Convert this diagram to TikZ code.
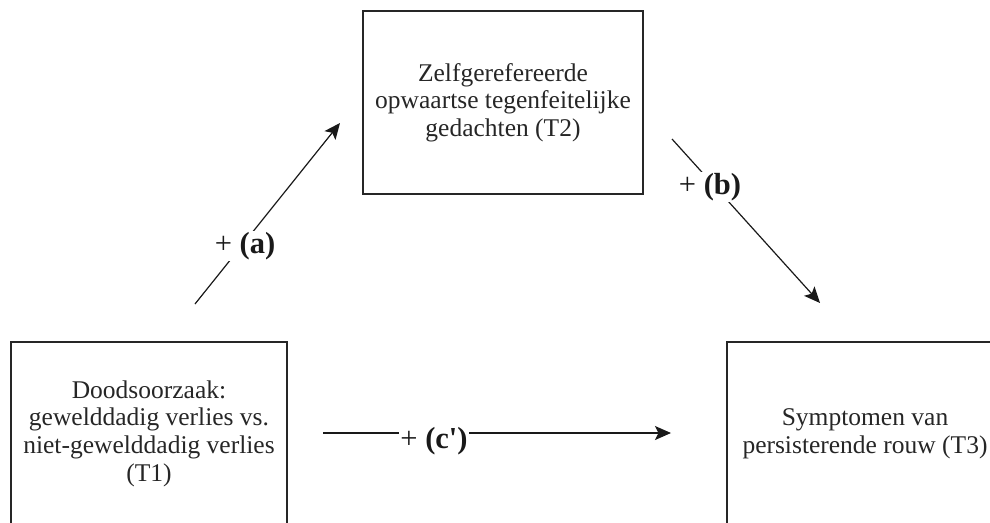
\documentclass[tikz,border=0pt]{standalone}
\usepackage{fontspec}
\setmainfont{Liberation Serif}
\usetikzlibrary{arrows.meta}
\begin{document}
\begin{tikzpicture}[x=1pt,y=-1pt,
  box/.style={draw=black!85, line width=1.3pt, minimum width=276pt, minimum height=183pt,
    align=center, font=\fontsize{25.5}{27.7}\selectfont, text=black!85, inner sep=0pt},
  conn/.style={draw=black!90, line width=1.2pt, -{Stealth[length=16pt,width=14pt,inset=3.5pt]}},
  lab/.style={fill=white, inner sep=1.5pt, text=black!90, font=\fontsize{30.5}{33}\selectfont}]
\useasboundingbox (0,0) rectangle (990,522);
\node[box, minimum width=280pt] (m) at (503,102.5)
  {Zelfgerefereerde\\opwaartse tegenfeitelijke\\gedachten (T2)};
\node[box] (x) at (149,433.5)
  {Doodsoorzaak:\\gewelddadig verlies vs.\\niet-gewelddadig verlies\\(T1)};
\node[box] (y) at (865,433.5)
  {Symptomen van\\persisterende rouw (T3)};
\coordinate (a0) at (195,304);
\coordinate (a1) at (340,123);
\coordinate (b0) at (672,139);
\coordinate (b1) at (820,303);
\coordinate (c0) at (323,433);
\coordinate (c1) at (671,433);
\draw[conn] (a0) -- (a1);
\draw[conn] (b0) -- (b1);
\draw[conn] (c0) -- (c1);
\node[lab] (la) at (245,246) {+ \textbf{(a)}};
\node[lab] (lb) at (710,187) {+ \textbf{(b)}};
\node[lab] (lc) at (434,441) {+ \textbf{(c\textquotesingle)}};
\end{tikzpicture}
\end{document}
